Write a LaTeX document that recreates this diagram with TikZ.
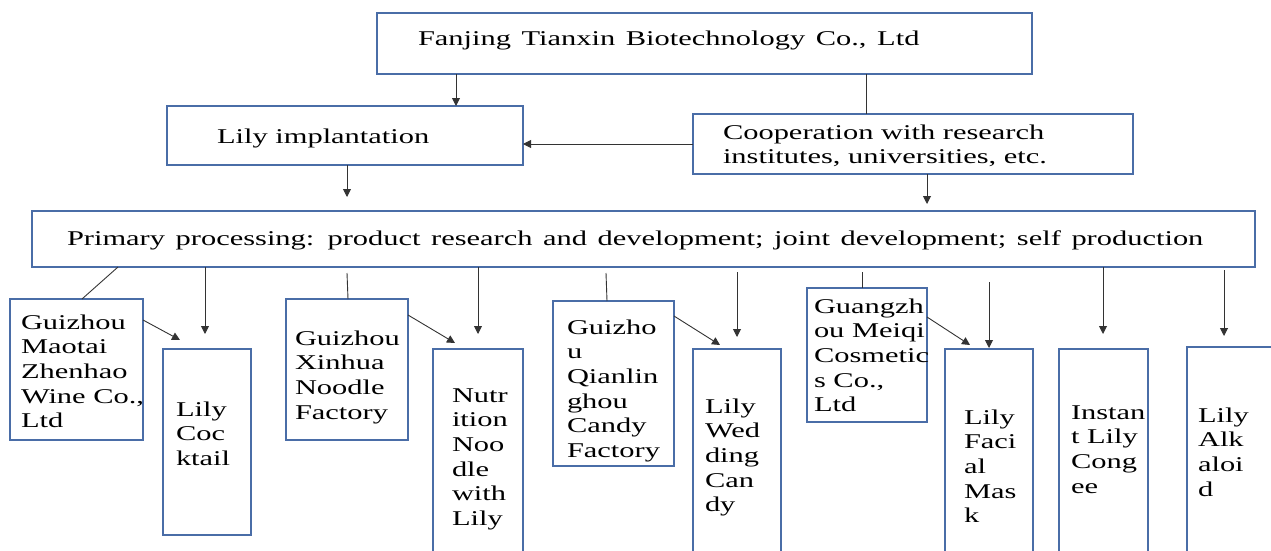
\documentclass[tikz,border=0pt]{standalone}
\usepackage{fontspec}
\setmainfont{Liberation Serif}[FakeStretch=1.45]
\usetikzlibrary{arrows.meta}
\definecolor{boxblue}{HTML}{4A6DA7}
\definecolor{conn}{HTML}{333333}
\newcommand\mlines[1]{\begin{tabular}[t]{@{}l@{}}#1\end{tabular}}
\newcommand\widesp{\spaceskip=10.6pt\relax}
\tikzset{
  box/.style={draw=boxblue, line width=1.8pt, fill=white, rectangle, inner sep=0pt, outer sep=0pt, anchor=north west},
  txt/.style={anchor=base west, inner sep=0pt, outer sep=0pt, font=\fontsize{21}{24.7}\selectfont, text=black},
  arr/.style={draw=conn, line width=0.9pt, -{Triangle[length=8pt,width=8pt]}},
  ln/.style={draw=conn, line width=0.9pt},
}
\begin{document}
\begin{tikzpicture}[x=1pt,y=-1pt]
\useasboundingbox (0,0) rectangle (1271,551);
\clip (0,0) rectangle (1271,551);
% boxes
\node[box, minimum width=655pt, minimum height=61pt] (fanjing) at (377,13) {};
\node[box, minimum width=356pt, minimum height=59pt] (lily) at (167,106) {};
\node[box, minimum width=440pt, minimum height=60pt] (coop) at (693,114) {};
\node[box, minimum width=1223pt, minimum height=56pt] (primary) at (32,211) {};
\node[box, minimum width=133pt, minimum height=141pt] (maotai) at (10,299) {};
\node[box, minimum width=88pt, minimum height=186pt] (cocktail) at (163,349) {};
\node[box, minimum width=122pt, minimum height=141pt] (xinhua) at (286,299) {};
\node[box, minimum width=90pt, minimum height=225pt] (nutrition) at (433,349) {};
\node[box, minimum width=121pt, minimum height=165pt] (qian) at (553,301) {};
\node[box, minimum width=88pt, minimum height=225pt] (wedding) at (693,349) {};
\node[box, minimum width=120pt, minimum height=134pt] (guang) at (807,288) {};
\node[box, minimum width=88pt, minimum height=225pt] (facial) at (945,349) {};
\node[box, minimum width=89pt, minimum height=225pt] (instant) at (1059,349) {};
\node[box, minimum width=110pt, minimum height=225pt] (alk) at (1187,347) {};
% texts
\node[txt] (tfanjing) at (418,46) {\widesp Fanjing Tianxin Biotechnology Co., Ltd};
\node[txt] (tlily) at (217,143) {Lily implantation};
\node[txt] (tcoop) at (723,139) {\mlines{Cooperation with research\\institutes, universities, etc.}};
\node[txt] (tprimary) at (67,245) {\widesp Primary processing: product research and development; joint development; self production};
\node[txt] (tmaotai) at (21,329) {\mlines{Guizhou\\Maotai\\Zhenhao\\Wine Co.,\\Ltd}};
\node[txt] (tcocktail) at (176,416) {\mlines{Lily\\Coc\\ktail}};
\node[txt] (txinhua) at (295,345) {\mlines{Guizhou\\Xinhua\\Noodle\\Factory}};
\node[txt] (tnutrition) at (452,402) {\mlines{Nutr\\ition\\Noo\\dle\\with\\Lily}};
\node[txt] (tqian) at (567,334) {\mlines{Guizho\\u\\Qianlin\\ghou\\Candy\\Factory}};
\node[txt] (twedding) at (705,413) {\mlines{Lily\\Wed\\ding\\Can\\dy}};
\node[txt] (tguang) at (814,313) {\mlines{Guangzh\\ou Meiqi\\Cosmetic\\s Co.,\\Ltd}};
\node[txt] (tfacial) at (964,424) {\mlines{Lily\\Faci\\al\\Mas\\k}};
\node[txt] (tinstant) at (1071,419) {\mlines{Instan\\t Lily\\Cong\\ee}};
\node[txt] (talk) at (1198,422) {\mlines{Lily\\Alk\\aloi\\d}};
% connectors, upper part
\draw[arr] ([xshift=79pt]fanjing.south west) -- ([xshift=289pt]lily.north west);
\draw[ln] ([xshift=489pt]fanjing.south west) -- ([xshift=173pt]coop.north west);
\draw[arr] (coop.west) -- (coop.west -| lily.east);
\draw[arr] ([xshift=180pt]lily.south west) -- ([xshift=315pt,yshift=14pt]primary.north west);
\draw[arr] ([xshift=234pt]coop.south west) -- ([xshift=895pt,yshift=7pt]primary.north west);
% connectors, lower part
\draw[ln] ([xshift=86pt]primary.south west) -- ([xshift=72pt]maotai.north west);
\draw[arr] ([xshift=173pt]primary.south west) -- ([xshift=42pt,yshift=15pt]cocktail.north west);
\draw[ln] ([xshift=315pt,yshift=-6pt]primary.south west) -- ([xshift=62pt]xinhua.north west);
\draw[arr] ([xshift=446pt]primary.south west) -- ([xshift=45pt,yshift=15pt]nutrition.north west);
\draw[ln] ([xshift=574pt,yshift=-6pt]primary.south west) -- ([xshift=54pt]qian.north west);
\draw[arr] ([xshift=705pt,yshift=-5pt]primary.south west) -- ([xshift=44pt,yshift=12pt]wedding.north west);
\draw[ln] ([xshift=830pt,yshift=-5pt]primary.south west) -- ([xshift=55pt]guang.north west);
\draw[arr] ([xshift=957pt,yshift=-15pt]primary.south west) -- ([xshift=44pt,yshift=1pt]facial.north west);
\draw[arr] ([xshift=1071pt]primary.south west) -- ([xshift=44pt,yshift=15pt]instant.north west);
\draw[arr] ([xshift=1192pt,yshift=-3pt]primary.south west) -- ([xshift=37pt,yshift=11pt]alk.north west);
% diagonal arrows
\draw[arr] ([yshift=-21pt]maotai.north east) -- ([xshift=17pt,yshift=9pt]cocktail.north west);
\draw[arr] ([yshift=-16pt]xinhua.north east) -- ([xshift=22pt,yshift=6pt]nutrition.north west);
\draw[arr] ([yshift=-15pt]qian.north east) -- ([xshift=27pt,yshift=4pt]wedding.north west);
\draw[arr] ([yshift=-29pt]guang.north east) -- ([xshift=25pt,yshift=4pt]facial.north west);
\end{tikzpicture}
\end{document}
